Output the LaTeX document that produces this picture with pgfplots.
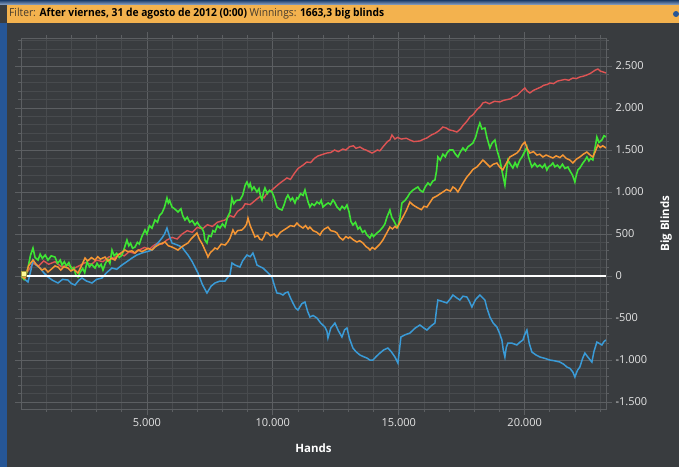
\documentclass[border=0pt]{standalone}
\usepackage{pgfplots}
\pgfplotsset{compat=1.18}
\usetikzlibrary{backgrounds}
\usepackage{fontspec}
\setmainfont{Open Sans}
\definecolor{bg}{RGB}{57,60,63}
\definecolor{gridminor}{RGB}{72,75,78}
\definecolor{gridmajor}{RGB}{92,95,98}
\definecolor{hdr}{RGB}{243,178,78}
\definecolor{winblue}{RGB}{38,86,150}
\definecolor{cred}{RGB}{222,84,84}
\definecolor{cgreen}{RGB}{62,228,52}
\definecolor{corange}{RGB}{245,150,52}
\definecolor{cblue}{RGB}{58,155,215}
\definecolor{lbl}{RGB}{228,228,228}
\definecolor{hdrtxt}{RGB}{70,60,45}
\begin{document}
\begin{tikzpicture}
\begin{axis}[
  width=585pt, height=371pt, scale only axis,
  xmin=0, xmax=23230, ymin=-1583, ymax=2833,
  scaled ticks=false,
  xtick={5000,10000,15000,20000},
  xticklabels={5.000,10.000,15.000,20.000},
  minor xtick={1000,2000,3000,4000,6000,7000,8000,9000,11000,12000,13000,14000,16000,17000,18000,19000,21000,22000,23000},
  ytick={-1500,-1000,-500,0,500,1000,1500,2000,2500},
  yticklabels={-1.500,-1.000,-500,0,500,1.000,1.500,2.000,2.500},
  minor ytick={-1500,-1400,...,2800},
  grid=both,
  major grid style={gridmajor, line width=0.8pt},
  minor grid style={gridminor, line width=0.8pt},
  axis line style={gridmajor, line width=0.8pt},
  tick style={gridmajor, line width=0.8pt},
  tick align=outside, major tick length=6pt, minor tick length=3pt,
  yticklabel pos=right,
  ticklabel style={font=\fontsize{11}{13}\selectfont, text=lbl},
  xlabel={\bfseries Hands},
  xlabel style={at={(axis description cs:0.5,-0.1051)}, anchor=center, font=\fontsize{11.5}{13}\selectfont, text=white},
  ylabel={\bfseries Big Blinds},
  ylabel style={at={(axis description cs:1.1026,0.5)}, anchor=center, font=\fontsize{11.5}{13}\selectfont, text=white},
  clip=true,
]
\coordinate (O) at (axis cs:0,-1583);
% red
\addplot[cred, line width=1.4pt] coordinates {
(0,0) (280,60) (480,150) (700,120) (900,180) (1100,140) (1350,170) (1600,110) (1870,130) (2100,90) (2300,120) (2550,160) (2800,140) (3000,190) (3250,170) (3500,230) (3700,210) (3900,260) (4100,240) (4300,290) (4500,270) (4700,310) (4900,340) (5100,320) (5300,370) (5440,393) (5600,380) (5800,430) (6000,460) (6200,440) (6400,500) (6600,540) (6800,520) (7000,580) (7200,560) (7400,610) (7600,590) (7800,640) (8100,667) (8300,720) (8450,700) (8600,770) (8800,810) (8900,860) (9100,850) (9300,900) (9500,950) (9650,930) (9800,1000) (9950,1020) (10100,1060) (10300,1110) (10560,1167) (10700,1150) (10850,1220) (11000,1280) (11200,1320) (11350,1357) (11500,1350) (11650,1400) (11800,1430) (12000,1450) (12150,1464) (12300,1470) (12450,1500) (12600,1480) (12783,1512) (12900,1500) (13050,1540) (13200,1550) (13300,1520) (13458,1536) (13600,1510) (13700,1500) (13935,1464) (14050,1480) (14150,1500) (14250,1490) (14371,1536) (14550,1600) (14650,1620) (14729,1679) (14850,1630) (14950,1650) (15100,1630) (15300,1640) (15443,1619) (15600,1600) (15840,1607) (16000,1630) (16118,1643) (16300,1680) (16450,1700) (16600,1730) (16753,1774) (16900,1760) (17000,1740) (17150,1730) (17309,1714) (17450,1750) (17550,1790) (17700,1840) (17825,1893) (17950,1920) (18100,1980) (18250,2020) (18341,2060) (18450,2070) (18600,2050) (18800,2080) (19016,2072) (19150,2090) (19300,2100) (19450,2110) (19532,2131) (19700,2150) (19800,2180) (19900,2210) (20009,2238) (20100,2200) (20207,2179) (20350,2210) (20500,2230) (20650,2250) (20750,2270) (20900,2280) (21001,2298) (21150,2290) (21300,2320) (21450,2330) (21600,2340) (21750,2330) (21914,2357) (22050,2350) (22200,2370) (22350,2380) (22470,2393) (22600,2410) (22700,2430) (22800,2450) (22907,2464) (23000,2440) (23100,2430) (23230,2417)
};
% blue
\addplot[cblue, line width=1.5pt] coordinates {
(0,0) (150,-40) (278,-71) (380,50) (476,190) (600,130) (754,95) (900,40) (1072,-12) (1250,-50) (1469,-83) (1650,-40) (1866,-48) (2000,-90) (2144,-107) (2300,-50) (2422,-24) (2600,-60) (2819,-83) (3000,-40) (3216,-24) (3400,40) (3613,95) (3800,80) (4010,131) (4200,170) (4407,214) (4600,250) (4804,274) (5000,290) (5201,309) (5400,380) (5598,452) (5700,500) (5796,571) (5900,470) (5995,393) (6200,370) (6392,345) (6500,300) (6630,250) (6800,170) (7027,36) (7200,-100) (7384,-202) (7550,-120) (7702,-83) (7900,-60) (8099,-60) (8200,-20) (8297,12) (8377,155) (8500,130) (8694,107) (8800,180) (8972,250) (9100,230) (9210,274) (9300,200) (9369,131) (9500,110) (9607,95) (9800,40) (9965,-12) (10050,-100) (10163,-202) (10300,-210) (10401,-226) (10500,-200) (10600,-190) (10700,-260) (10798,-321) (10900,-380) (10997,-405) (11150,-330) (11275,-309) (11380,-420) (11473,-488) (11600,-470) (11751,-500) (11900,-560) (12069,-607) (12150,-660) (12188,-738) (12300,-620) (12466,-560) (12600,-650) (12744,-726) (12850,-640) (12942,-619) (13050,-750) (13180,-857) (13300,-900) (13458,-940) (13600,-960) (13736,-976) (13850,-1000) (13974,-1000) (14100,-960) (14252,-917) (14400,-880) (14570,-857) (14700,-900) (14848,-964) (14967,-1036) (15020,-900) (15086,-726) (15250,-700) (15443,-679) (15650,-620) (15840,-583) (16000,-620) (16118,-643) (16300,-590) (16436,-560) (16500,-400) (16555,-286) (16700,-300) (16912,-321) (17050,-270) (17150,-226) (17300,-260) (17428,-286) (17550,-240) (17706,-250) (17800,-300) (17905,-369) (18050,-280) (18222,-226) (18300,-250) (18421,-286) (18500,-380) (18619,-488) (18750,-560) (18897,-607) (19000,-680) (19096,-762) (19150,-880) (19215,-964) (19270,-850) (19334,-798) (19500,-800) (19691,-821) (19800,-790) (19929,-762) (20000,-700) (20088,-643) (20180,-800) (20287,-905) (20450,-940) (20604,-964) (20800,-980) (21001,-1000) (21200,-1010) (21398,-1024) (21550,-1050) (21676,-1083) (21800,-1100) (21914,-1143) (21994,-1202) (22100,-1120) (22192,-1083) (22300,-980) (22391,-917) (22550,-980) (22669,-1024) (22750,-900) (22867,-786) (22950,-800) (23066,-821) (23150,-780) (23230,-762)
};
% green
\addplot[cgreen, line width=1.6pt] coordinates {
(0,0) (120,-40) (250,60) (380,250) (476,333) (560,220) (675,190) (760,260) (850,210) (960,250) (1072,190) (1200,240) (1350,226) (1450,150) (1560,190) (1628,131) (1720,170) (1800,120) (1900,160) (2025,71) (2100,100) (2180,10) (2263,-12) (2340,40) (2450,90) (2530,40) (2620,167) (2720,110) (2800,140) (2938,95) (3020,150) (3100,110) (3180,140) (3255,71) (3350,150) (3450,200) (3530,150) (3613,309) (3700,240) (3800,270) (3900,220) (4010,250) (4100,330) (4208,428) (4280,360) (4350,390) (4430,330) (4526,345) (4620,400) (4700,380) (4800,470) (4923,548) (5000,500) (5100,600) (5200,570) (5320,667) (5420,640) (5500,720) (5598,750) (5700,820) (5796,929) (5850,870) (5900,900) (5995,821) (6100,800) (6233,762) (6350,800) (6420,720) (6511,667) (6600,700) (6700,640) (6800,660) (6908,607) (7000,640) (7100,590) (7186,571) (7260,520) (7300,430) (7384,393) (7450,480) (7550,470) (7620,540) (7702,524) (7800,600) (7900,571) (8000,620) (8099,583) (8200,700) (8300,760) (8377,929) (8450,860) (8550,900) (8694,905) (8800,960) (8900,1080) (8972,1119) (9050,1060) (9100,1100) (9171,1024) (9250,1060) (9369,1000) (9450,1040) (9520,940) (9568,905) (9630,1000) (9687,1048) (9780,980) (9870,1020) (9965,1000) (10050,940) (10163,821) (10250,800) (10362,786) (10450,850) (10520,920) (10600,964) (10700,900) (10780,930) (10878,869) (10950,930) (11000,920) (11100,980) (11200,960) (11275,1024) (11330,960) (11400,880) (11473,821) (11550,860) (11650,840) (11751,881) (11850,860) (11920,900) (11989,821) (12100,850) (12200,870) (12290,850) (12386,905) (12450,880) (12550,820) (12664,786) (12750,830) (12850,800) (12942,845) (13030,760) (13100,650) (13180,607) (13280,640) (13380,560) (13458,583) (13560,520) (13650,540) (13736,488) (13800,470) (13855,452) (13930,500) (14000,470) (14133,512) (14250,540) (14371,583) (14450,620) (14530,700) (14649,786) (14720,700) (14800,660) (14848,631) (14900,600) (14967,583) (15050,700) (15126,869) (15250,900) (15350,940) (15443,988) (15550,1020) (15650,1040) (15761,1060) (15850,1020) (15959,1000) (16050,1060) (16158,1107) (16250,1080) (16350,1130) (16436,1143) (16500,1250) (16555,1417) (16650,1380) (16750,1450) (16850,1420) (16912,1464) (17020,1500) (17150,1500) (17250,1450) (17349,1417) (17450,1480) (17547,1524) (17650,1490) (17750,1540) (17850,1560) (17944,1583) (18050,1650) (18150,1760) (18222,1821) (18300,1750) (18421,1762) (18500,1650) (18619,1524) (18700,1580) (18818,1619) (18900,1500) (19016,1381) (19100,1250) (19215,1083) (19280,1250) (19334,1381) (19430,1330) (19532,1286) (19620,1350) (19700,1300) (19810,1381) (19900,1420) (20000,1480) (20088,1536) (20150,1420) (20287,1298) (20400,1340) (20500,1300) (20604,1321) (20700,1290) (20800,1330) (20882,1262) (20950,1300) (21050,1320) (21120,1345) (21200,1300) (21300,1320) (21398,1286) (21500,1330) (21600,1280) (21716,1298) (21800,1250) (21900,1200) (21994,1119) (22050,1200) (22113,1262) (22200,1290) (22311,1345) (22400,1380) (22470,1417) (22550,1370) (22620,1400) (22708,1381) (22780,1500) (22867,1655) (22950,1590) (23066,1619) (23150,1670) (23230,1655)
};
% orange
\addplot[corange, line width=1.5pt] coordinates {
(0,0) (150,-30) (300,120) (476,190) (600,140) (700,110) (834,71) (950,90) (1072,48) (1200,80) (1350,120) (1469,107) (1580,70) (1700,110) (1866,95) (1980,60) (2100,80) (2263,36) (2400,120) (2541,214) (2650,180) (2800,220) (2938,190) (3050,230) (3150,200) (3335,226) (3450,180) (3600,210) (3732,190) (3850,250) (4000,280) (4129,309) (4250,290) (4400,300) (4526,274) (4650,310) (4800,290) (4923,309) (5050,330) (5200,310) (5320,345) (5450,370) (5600,390) (5717,405) (5850,360) (5995,345) (6100,330) (6233,309) (6350,340) (6500,370) (6630,393) (6750,440) (6880,480) (6987,512) (7080,440) (7200,380) (7305,309) (7380,260) (7424,226) (7520,280) (7600,300) (7702,333) (7800,320) (7950,380) (8099,369) (8200,400) (8300,450) (8416,548) (8500,500) (8600,540) (8774,548) (8880,580) (8960,620) (9012,690) (9100,600) (9200,530) (9290,464) (9400,480) (9480,440) (9568,429) (9650,470) (9720,520) (9806,512) (9900,480) (10050,500) (10163,464) (10300,520) (10450,550) (10560,571) (10700,600) (10850,590) (10957,631) (11050,600) (11195,571) (11300,600) (11400,560) (11473,583) (11600,540) (11750,520) (11870,488) (11950,530) (12050,560) (12188,583) (12300,540) (12450,530) (12545,512) (12650,460) (12783,429) (12900,470) (13000,450) (13061,464) (13200,430) (13339,405) (13450,420) (13577,393) (13700,350) (13800,330) (13855,309) (13950,340) (14050,320) (14133,345) (14250,380) (14371,429) (14500,500) (14649,583) (14750,560) (14850,590) (14927,571) (15050,640) (15165,702) (15300,780) (15443,881) (15550,850) (15650,830) (15761,810) (15900,790) (16000,830) (16118,821) (16250,880) (16356,929) (16500,950) (16650,980) (16753,1000) (16900,1030) (17050,1010) (17150,1060) (17250,1040) (17349,1000) (17500,1080) (17600,1130) (17706,1179) (17850,1230) (17950,1270) (18103,1298) (18200,1330) (18341,1381) (18450,1350) (18550,1320) (18619,1298) (18750,1330) (18897,1345) (19000,1300) (19135,1262) (19250,1330) (19413,1417) (19550,1440) (19691,1464) (19800,1500) (19900,1560) (20009,1595) (20100,1520) (20207,1464) (20350,1480) (20485,1440) (20600,1450) (20723,1417) (20850,1440) (21000,1420) (21120,1405) (21250,1430) (21400,1410) (21517,1440) (21650,1400) (21800,1380) (21914,1345) (22050,1390) (22192,1417) (22330,1450) (22470,1476) (22600,1440) (22708,1417) (22800,1480) (22907,1560) (23000,1530) (23100,1550) (23230,1524)
};
% zero line
\addplot[white, line width=2pt] coordinates {(0,0) (23230,0)};
\addplot[only marks, mark=square*, mark size=2.5pt, mark options={fill=yellow!40!white, draw=yellow!60!black}] coordinates {(100,30)};
\end{axis}
\begin{scope}[on background layer, shift={(O)}, x=1pt, y=1pt, shift={(-21,-58)}]
\fill[bg] (0,0) rectangle (679,467);
\fill[winblue] (0,0) rectangle (7,444);
\fill[top color=winblue!70!black, bottom color=winblue!50!white] (0,462) rectangle (679,467);
\fill[hdr] (7,444) rectangle (679,462);
\fill[winblue] (676,453) circle (3);
\node[anchor=west, inner sep=0, xscale=0.933, transform shape, font=\fontsize{11}{13}\selectfont] at (9,453)
 {\textcolor{hdrtxt}{Filter:} \textbf{After viernes, 31 de agosto de 2012 (0:00)} \textcolor{hdrtxt}{Winnings:} \textbf{1663,3 big blinds}};
\end{scope}
\end{tikzpicture}
\end{document}
